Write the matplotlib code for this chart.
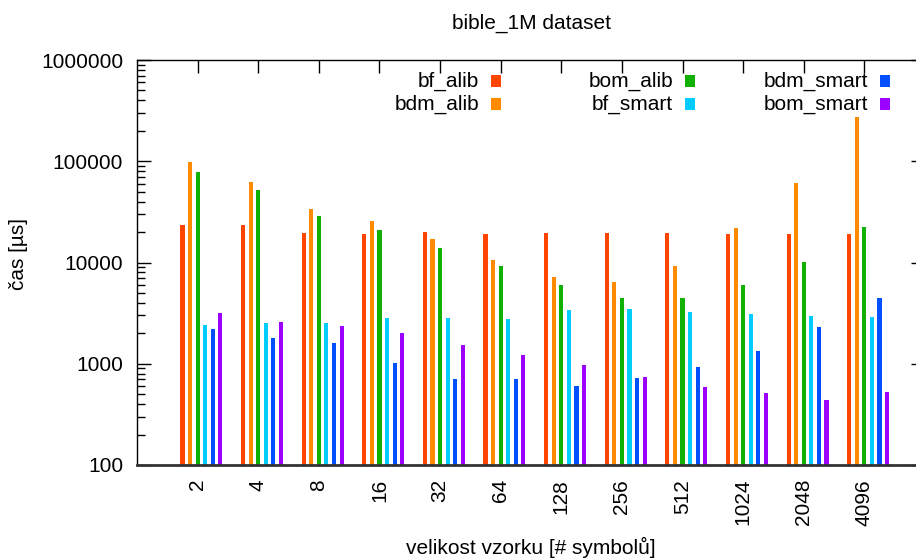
import matplotlib
matplotlib.use("Agg")
import matplotlib.pyplot as plt
from matplotlib.patches import Rectangle
from matplotlib.ticker import LogLocator, NullFormatter, FixedLocator
import numpy as np

plt.rcParams['font.family'] = ['Liberation Sans', 'DejaVu Sans']

categories = ["2", "4", "8", "16", "32", "64", "128", "256", "512", "1024", "2048", "4096"]
series_names = ["bf_alib", "bdm_alib", "bom_alib", "bf_smart", "bdm_smart", "bom_smart"]
colors = ["#ff4500", "#ff8a00", "#12b000", "#00ccff", "#0050ff", "#9c00ff"]

bf_alib   = [23400, 23300, 19500, 19100, 19800, 19200, 19500, 19500, 19500, 19100, 19100, 19100]
bdm_alib  = [98000, 62400, 33700, 25700, 16900, 10600, 7200, 6400, 9200, 21900, 61000, 273000]
bom_alib  = [77800, 52400, 28800, 20900, 13900, 9200, 6000, 4460, 4460, 6000, 10200, 22600]
bf_smart  = [2410, 2520, 2520, 2830, 2830, 2770, 3400, 3470, 3250, 3100, 2960, 2900]
bdm_smart = [2200, 1800, 1600, 1020, 707, 712, 603, 723, 930, 1330, 2300, 4460]
bom_smart = [3150, 2590, 2380, 2010, 1540, 1230, 970, 740, 590, 510, 438, 526]

values = [bf_alib, bdm_alib, bom_alib, bf_smart, bdm_smart, bom_smart]

W, H = 916, 558
fig = plt.figure(figsize=(W / 100, H / 100), dpi=100)

def fx(px):
    return px / W

def fy(py):
    return 1 - py / H

FS = 15.0

left_px, right_px, top_px, bottom_px = 137, 925, 60, 465
ax = fig.add_axes([fx(left_px), fy(bottom_px), fx(right_px - left_px), (bottom_px - top_px) / H])

x = np.arange(len(categories))
step = 0.125
bw = 0.068
for i, (vals, c) in enumerate(zip(values, colors)):
    ax.bar(x - 0.25 + i * step, vals, width=bw, color=c, bottom=0, linewidth=0, zorder=2)

ax.set_yscale('log')
ax.set_ylim(100, 1000000)
ax.set_xlim(-1, 12)

ax.yaxis.set_major_locator(FixedLocator([100, 1000, 10000, 100000, 1000000]))
ax.set_yticklabels(["100", "1000", "10000", "100000", "1000000"])
ax.yaxis.set_minor_locator(LogLocator(base=10, subs=np.arange(2, 10)))
ax.yaxis.set_minor_formatter(NullFormatter())

ax.set_xticks(x)
ax.set_xticklabels(categories, rotation=90, va='top', ha='center')

ax.tick_params(axis='both', which='both', direction='in', top=True, right=True,
               labelsize=FS, colors='#000000')
ax.tick_params(axis='y', which='major', length=10, width=1, pad=10)
ax.tick_params(axis='y', which='minor', length=6, width=1)
ax.tick_params(axis='x', which='major', length=9, width=1, pad=10)

for s in ['left', 'top', 'right']:
    ax.spines[s].set_linewidth(1)
    ax.spines[s].set_color('#000000')
ax.spines['bottom'].set_linewidth(2)
ax.spines['bottom'].set_color('#333333')

fig.text(fx(531), fy(23), "bible_1M dataset", ha='center', va='center', fontsize=FS)
fig.text(fx(19), fy(254), "čas [µs]", ha='center', va='center', rotation=90, fontsize=FS)
fig.text(fx(531), fy(547), "velikost vzorku [# symbolů]", ha='center', va='center', fontsize=FS)

# gnuplot-style legend: label right-aligned, colour square to the right
col_text_right = [479, 673, 868]
col_square_x = [491, 685, 880]
row_y = [81, 104]
sq_w, sq_h = 10, 12
for i, (name, c) in enumerate(zip(series_names, colors)):
    col, row = i // 2, i % 2
    fig.text(fx(col_text_right[col]), fy(row_y[row]), name, ha='right', va='center', fontsize=FS)
    fig.patches.append(Rectangle((fx(col_square_x[col]), fy(row_y[row] + sq_h / 2)),
                                 sq_w / W, sq_h / H, transform=fig.transFigure,
                                 facecolor=c, edgecolor='none'))

fig.savefig("out.png", dpi=100)
